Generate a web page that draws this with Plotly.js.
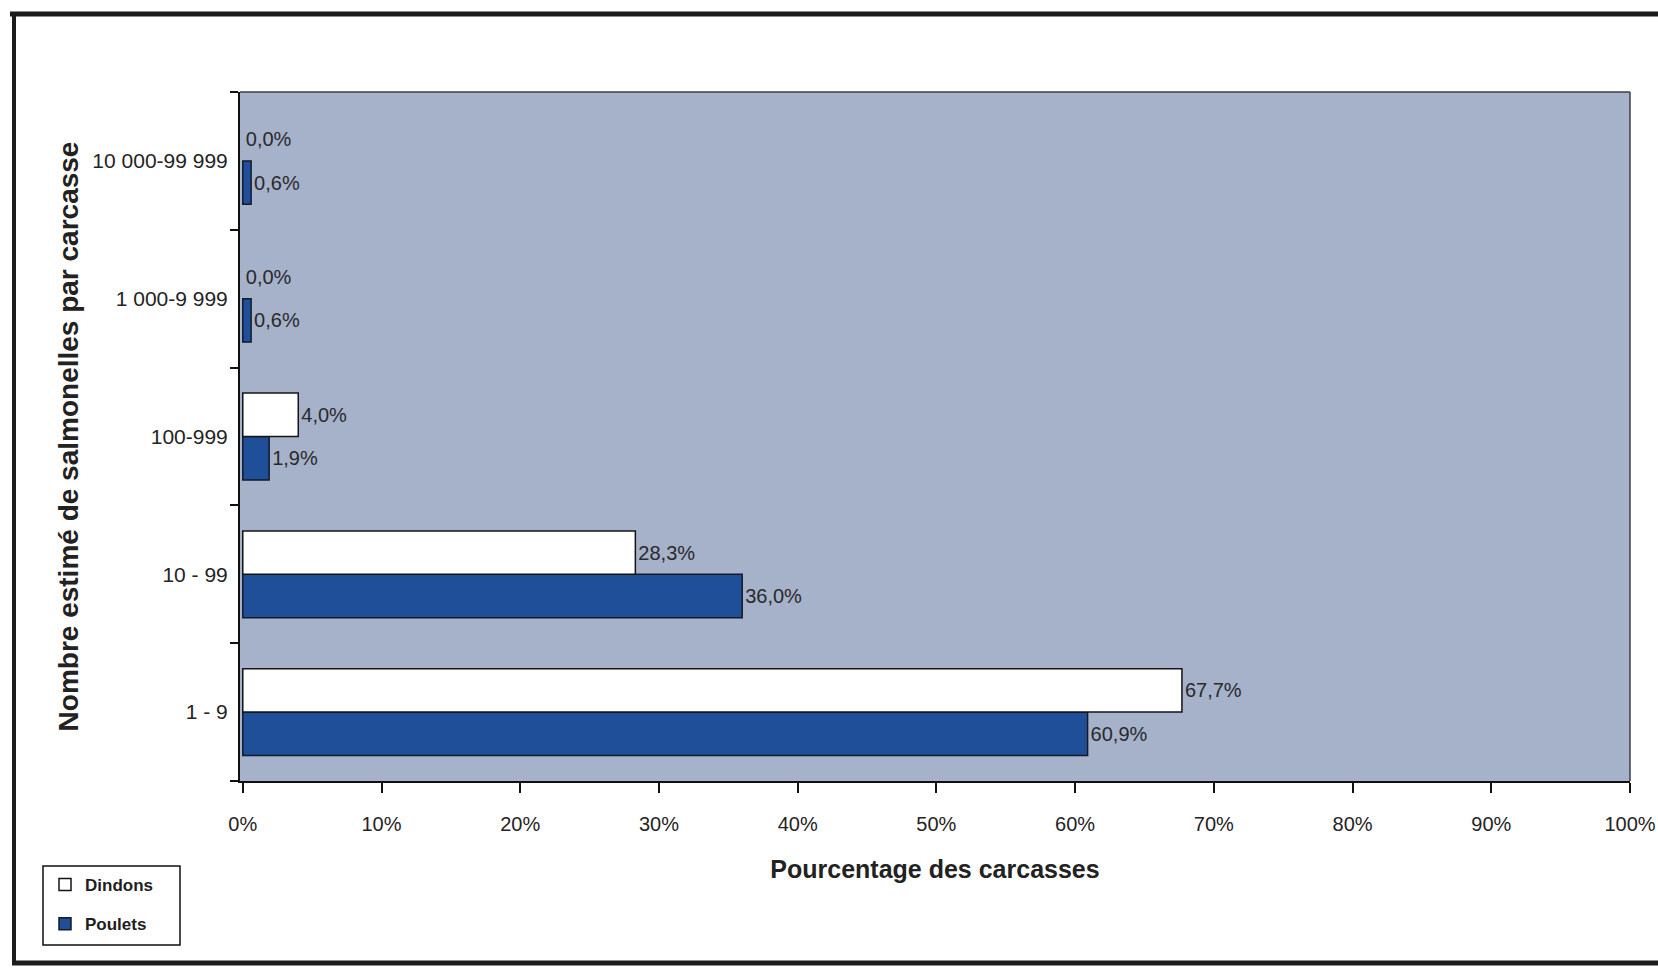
<!DOCTYPE html>
<html>
<head>
<meta charset="utf-8">
<script src="https://cdn.plot.ly/plotly-3.0.1.min.js"></script>
<style>
  html, body { margin: 0; padding: 0; background: #ffffff; }
  #chart { width: 1658px; height: 970px; }
</style>
</head>
<body>
<div id="chart"></div>
<script>
// Salmonella counts per carcass, share of carcasses by class (%)
const categories = ['1 - 9', '10 - 99', '100-999', '1 000-9 999', '10 000-99 999'];
const dindons = [67.7, 28.3, 4.0, 0.0, 0.0];
const poulets = [60.9, 36.0, 1.9, 0.6, 0.6];
const xTickValues = [0, 10, 20, 30, 40, 50, 60, 70, 80, 90, 100];
const xTickLabels = ['0%', '10%', '20%', '30%', '40%', '50%', '60%', '70%', '80%', '90%', '100%'];

const FONT = '"Liberation Sans", Arial, Helvetica, sans-serif';
const W = 1658, H = 970;
const M = { l: 240, r: 28, t: 92, b: 189 };
const plotW = W - M.l - M.r;
const plotH = H - M.t - M.b;

// pixel -> paper coordinates, for the frame and legend box
const px = v => (v - M.l) / plotW;
const py = v => (H - M.b - v) / plotH;

const barText = { family: FONT, size: 20, color: '#2a2a2a' };

// empty bars get no outline, so only their label shows
const outlineWidths = vals => vals.map(v => (v > 0 ? 1.5 : 0));

const traces = [
  {
    type: 'bar', orientation: 'h', name: 'Poulets',
    y: categories, x: poulets,
    marker: { color: '#1e4f98', line: { color: '#141a28', width: outlineWidths(poulets) } },
    texttemplate: '%{x:.1f}%', textposition: 'outside', textfont: barText,
    constraintext: 'none', cliponaxis: false, hoverinfo: 'skip',
    legendgroup: 'p', legendrank: 2
  },
  {
    type: 'bar', orientation: 'h', name: 'Dindons',
    y: categories, x: dindons,
    marker: { color: '#ffffff', line: { color: '#141414', width: outlineWidths(dindons) } },
    texttemplate: '%{x:.1f}%', textposition: 'outside', textfont: barText,
    constraintext: 'none', cliponaxis: false, hoverinfo: 'skip',
    legendgroup: 'd', legendrank: 1
  }
];

const frameColor = '#1c1c1c';
const shapes = [
  // figure frame: top, left, bottom
  { type: 'line', xref: 'paper', yref: 'paper', x0: px(10), x1: px(W), y0: py(14), y1: py(14),
    line: { color: frameColor, width: 5 } },
  { type: 'line', xref: 'paper', yref: 'paper', x0: px(14), x1: px(14), y0: py(12), y1: py(965),
    line: { color: frameColor, width: 4 } },
  { type: 'line', xref: 'paper', yref: 'paper', x0: px(12), x1: px(W), y0: py(963), y1: py(963),
    line: { color: frameColor, width: 5 } },
  // plot area border, top and right
  { type: 'line', xref: 'paper', yref: 'paper', x0: 0, x1: 1, y0: 1, y1: 1,
    line: { color: '#3a3f4a', width: 1.5 } },
  { type: 'line', xref: 'paper', yref: 'paper', x0: 1, x1: 1, y0: 0, y1: 1,
    line: { color: '#3a3f4a', width: 1.5 } },
  // legend box
  { type: 'rect', xref: 'paper', yref: 'paper', layer: 'below',
    x0: px(43), x1: px(180), y0: py(866), y1: py(945),
    fillcolor: '#ffffff', line: { color: '#111111', width: 1.5 } }
];

const layout = {
  width: W, height: H,
  margin: { l: M.l, r: M.r, t: M.t, b: M.b, autoexpand: false },
  paper_bgcolor: '#ffffff',
  plot_bgcolor: '#a6b1ca',
  separators: ', ',
  barmode: 'group',
  bargap: 0.37,
  bargroupgap: 0,
  font: { family: FONT, color: '#222222' },
  showlegend: true,
  legend: {
    x: px(45), y: py(867), xanchor: 'left', yanchor: 'top',
    xref: 'paper', yref: 'paper',
    traceorder: 'grouped',
    tracegroupgap: 14,
    bgcolor: 'rgba(0,0,0,0)', borderwidth: 0,
    font: { family: FONT, size: 17, color: '#1e1e1e', weight: 'bold' }
  },
  xaxis: {
    range: [-0.2, 100],
    tickmode: 'array',
    tickvals: xTickValues,
    ticktext: xTickLabels,
    showgrid: false, zeroline: false,
    showline: true, linecolor: '#111111', linewidth: 2,
    ticks: 'outside', ticklen: 10, tickwidth: 2, tickcolor: '#111111',
    ticklabelstandoff: 14,
    tickfont: { family: FONT, size: 20, color: '#242424' },
    automargin: true,
    title: {
      text: 'Pourcentage des carcasses',
      font: { family: FONT, size: 25, color: '#222222', weight: 'bold' },
      standoff: 26
    },
    fixedrange: true
  },
  yaxis: {
    type: 'category',
    categoryorder: 'array', categoryarray: categories,
    range: [-0.5, 4.5],
    showgrid: false, zeroline: false,
    showline: true, linecolor: '#111111', linewidth: 2,
    ticks: 'outside', tickson: 'boundaries', ticklen: 8, tickwidth: 2, tickcolor: '#111111',
    ticklabelstandoff: 6,
    tickfont: { family: FONT, size: 21, color: '#242424' },
    automargin: true,
    title: {
      text: 'Nombre estimé de salmonelles par carcasse',
      font: { family: FONT, size: 28, color: '#222222', weight: 'bold' },
      standoff: 6
    },
    fixedrange: true
  },
  shapes: shapes
};

Plotly.newPlot('chart', traces, layout, { displayModeBar: false, staticPlot: true });
</script>
</body>
</html>
